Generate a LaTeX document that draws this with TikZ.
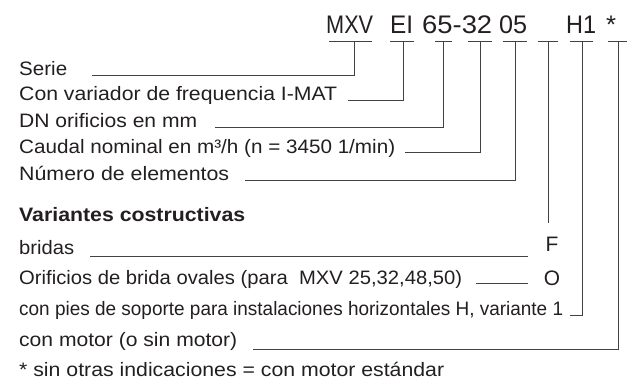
\documentclass[tikz,border=0pt]{standalone}
\usepackage{fontspec}
\setmainfont{Liberation Sans}
\usepackage{graphicx}
\newcommand{\fitw}[2]{\resizebox{#1bp}{\height}{#2}}
\definecolor{ink}{HTML}{231F20}
\begin{document}
\begin{tikzpicture}[x=1bp,y=-1bp,
  lbl/.style={inner sep=0pt, anchor=base west, text=ink, font=\fontsize{19.5}{19.5}\selectfont},
  lbb/.style={lbl, font=\fontsize{19.5}{19.5}\selectfont\bfseries},
  vlet/.style={inner sep=0pt, anchor=base, text=ink, font=\fontsize{21}{21}\selectfont},
  code/.style={inner sep=0pt, anchor=base west, text=ink, font=\fontsize{25.5}{25.5}\selectfont},
  tick/.style={draw=ink!85, line width=0.9bp},
  lead/.style={draw=ink!85, line width=0.9bp}]
\useasboundingbox (0,0) rectangle (627,385);
% code elements
\node[code] (cA) at (326,33) {\fitw{47}{MXV}};
\node[code] (cB) at (390,33) {\fitw{23}{EI}};
\node[code] (cC) at (422,33) {\fitw{70}{65-32}};
\node[code] (cD) at (499,33) {\fitw{28}{05}};
\node[code] (cE) at (566,33) {\fitw{30}{H1}};
\node[code] (cF) at (606,33) {\fitw{10}{*}};
% tick bars
\coordinate (b1l) at (329,41); \coordinate (b1r) at (372,41); \coordinate (t1) at (354,41);
\coordinate (b2l) at (390,41); \coordinate (b2r) at (414,41); \coordinate (t2) at (403,41);
\coordinate (b3l) at (435,41); \coordinate (b3r) at (452,41); \coordinate (t3) at (443,41);
\coordinate (b4l) at (468,41); \coordinate (b4r) at (492,41); \coordinate (t4) at (480,41);
\coordinate (b5l) at (503,41); \coordinate (b5r) at (527,41); \coordinate (t5) at (515.5,41);
\coordinate (b6l) at (538,41); \coordinate (b6r) at (558,41); \coordinate (t6) at (548,41);
\coordinate (b7l) at (570,41); \coordinate (b7r) at (593,41); \coordinate (t7) at (582,41);
\coordinate (b8l) at (608,41); \coordinate (b8r) at (627,41); \coordinate (t8) at (618,41);
\foreach \i in {1,...,8} {\draw[tick] (b\i l) -- (b\i r);}
% labels
\node[lbl] (l1) at (19,75) {\fitw{48}{Serie}};
\node[lbl] (l2) at (19,100) {\fitw{318}{Con variador de frequencia I-MAT}};
\node[lbl] (l3) at (19,127) {\fitw{178}{DN orificios en mm}};
\node[lbl] (l4) at (19,153) {\fitw{376}{Caudal nominal en m³/h (n = 3450 1/min)}};
\node[lbl] (l5) at (19,180) {\fitw{210}{Número de elementos}};
\node[lbb] (l6) at (19,221) {\fitw{226}{Variantes costructivas}};
\node[lbl] (l7) at (19,254) {\fitw{55}{bridas}};
\node[lbl] (l8) at (19,284) {\fitw{443}{Orificios de brida ovales (para\ \ MXV 25,32,48,50)}};
\node[lbl] (l9) at (19,315) {\fitw{544}{con pies de soporte para instalaciones horizontales H, variante 1}};
\node[lbl] (l10) at (19,346) {\fitw{218}{con motor (o sin motor)}};
\node[lbl] (l11) at (19,376) {\fitw{425}{* sin otras indicaciones = con motor estándar}};
\node[vlet] (vF) at (552,251) {F};
\node[vlet] (vO) at (552,285) {O};
% leader ends
\coordinate (e1) at (92,75);
\coordinate (e2) at (348,100);
\coordinate (e3) at (215,127);
\coordinate (e4) at (405,152);
\coordinate (e5) at (245,180);
\coordinate (e6) at (548,223);
\coordinate (e7) at (570,315);
\coordinate (e8) at (253,349);
\draw[lead] (t1) |- (e1);
\draw[lead] (t2) |- (e2);
\draw[lead] (t3) |- (e3);
\draw[lead] (t4) |- (e4);
\draw[lead] (t5) |- (e5);
\draw[lead] (t6) -- (e6);
\draw[lead] (t7) |- (e7);
\draw[lead] (t8) |- (e8);
% free lines
\coordinate (f1a) at (90,256); \coordinate (f1b) at (528,256);
\coordinate (f2a) at (476,283); \coordinate (f2b) at (528,283);
\draw[lead] (f1a) -- (f1b);
\draw[lead] (f2a) -- (f2b);
\end{tikzpicture}
\end{document}
